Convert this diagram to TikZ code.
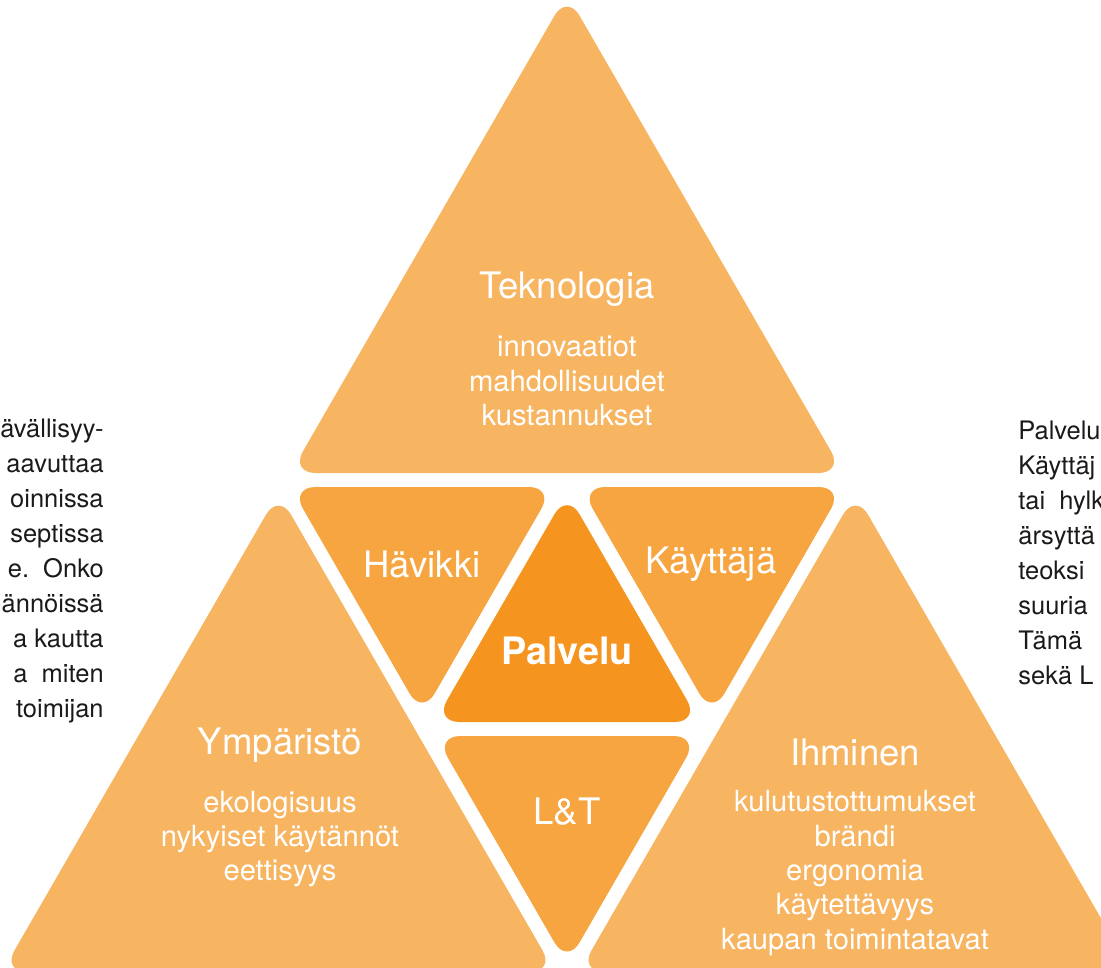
\documentclass[tikz,border=0pt]{standalone}
\usepackage{fontspec}
\setmainfont{TeX Gyre Heros}

\definecolor{orangelight}{HTML}{F7B461}
\definecolor{orangemid}{HTML}{F6A540}
\definecolor{orangecore}{HTML}{F59520}
\definecolor{bodyink}{HTML}{1A1A1A}

\begin{document}
\begin{tikzpicture}[
    x=0.02cm, y=-0.02cm,
    bigtri/.style={fill=orangelight, rounded corners=0.5cm},
    smalltri/.style={fill=orangemid, rounded corners=0.5cm},
    coretri/.style={fill=orangecore, rounded corners=0.5cm},
    title/.style={text=white, inner sep=0pt, font=\fontsize{20.8}{24}\selectfont},
    items/.style={text=white, inner sep=0pt, align=center,
                  font=\fontsize{16.6}{19.6}\selectfont},
    bodytext/.style={text=bodyink, inner sep=0pt,
                     font=\fontsize{14.5}{19.9}\selectfont}
]
\useasboundingbox (0,0) rectangle (1101,967);
\clip (0,0) rectangle (1101,967);

% Triangles
\fill[bigtri] (290.4,473) -- (567,-6) -- (843.6,473) -- cycle;
\fill[bigtri] (2,972) -- (278.5,493) -- (555,972) -- cycle;
\fill[bigtri] (579,972) -- (855.5,493) -- (1132,972) -- cycle;
\fill[smalltri] (290.4,487) -- (553.9,487) -- (422.1,715.2) -- cycle;
\fill[smalltri] (580.1,487) -- (843.6,487) -- (711.9,715.2) -- cycle;
\fill[smalltri] (435.3,736) -- (698.7,736) -- (567,964.2) -- cycle;
\fill[coretri] (434.4,722) -- (567,492.5) -- (699.6,722) -- cycle;

% Labels
\node[title] (tek) at (567,289) {Teknologia};
\node[items] (tekitems) at (567,381) {innovaatiot\\mahdollisuudet\\kustannukset};
\node[title] (hav) at (422,564) {Hävikki};
\node[title] (kay) at (711,564) {Käyttäjä};
\node[title, font=\fontsize{21.5}{24}\selectfont\bfseries] (pal) at (567,651) {Palvelu};
\node[title] (ymp) at (280,745) {Ympäristö};
\node[items] (ympitems) at (280,839) {ekologisuus\\nykyiset käytännöt\\eettisyys};
\node[title] (lt) at (567,812) {L\&T};
\node[title] (ihm) at (855,752) {Ihminen};
\node[items] (ihmitems) at (855,873)
    {kulutustottumukset\\brändi\\ergonomia\\käytettävyys\\kaupan toimintatavat};

% Body text
\node[bodytext, anchor=east, align=right] (lefttext) at (104,571)
    {ävällisyy-\\aavuttaa\\oinnissa\\septissa\\e.~~Onko\\ännöissä\\a kautta\\a~~miten\\toimijan};
\node[bodytext, anchor=west, align=left] (righttext) at (1018,553)
    {Palvelu\\Käyttäj\\tai~~hylk\\ärsyttä\\teoksi\\suuria\\Tämä\\sekä L};

\end{tikzpicture}
\end{document}
